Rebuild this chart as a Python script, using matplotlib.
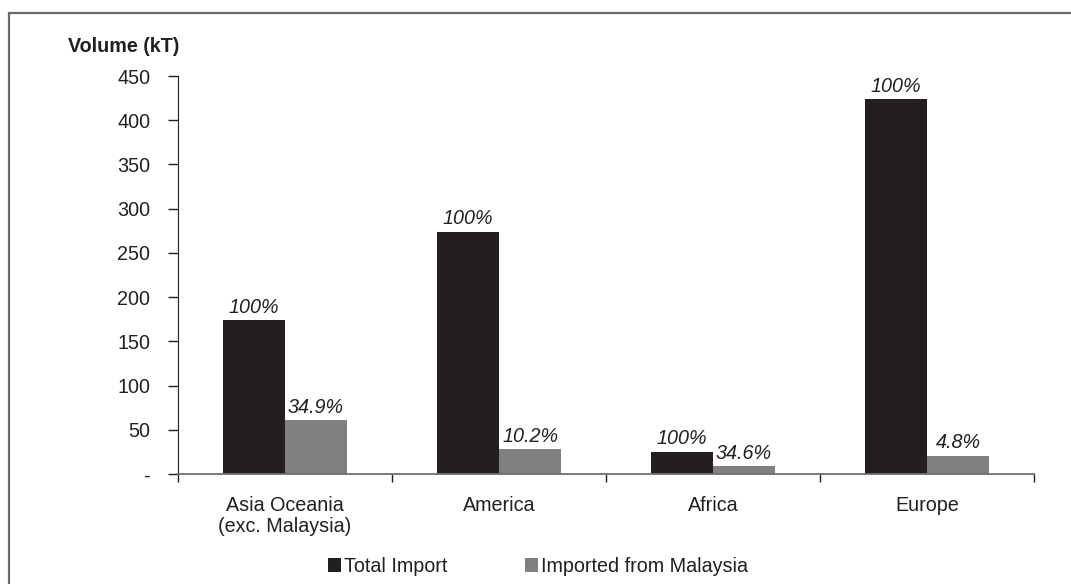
import matplotlib
matplotlib.use("Agg")
import matplotlib.pyplot as plt
from matplotlib.patches import Rectangle, Patch
import numpy as np

plt.rcParams["font.family"] = ["Liberation Sans", "DejaVu Sans"]

regions = ["Asia Oceania\n(exc. Malaysia)", "America", "Africa", "Europe"]
total_import = [174, 274, 25, 424]
from_malaysia = [60.7, 27.9, 8.7, 20.4]
total_labels = ["100%", "100%", "100%", "100%"]
malaysia_labels = ["34.9%", "10.2%", "34.6%", "4.8%"]
y_ticks = [0, 50, 100, 150, 200, 250, 300, 350, 400, 450]
y_tick_labels = ["-", "50", "100", "150", "200", "250", "300", "350", "400", "450"]

c_total = "#231f20"
c_malay = "#808083"
txt = "#231f20"
fs = 14.2

fig = plt.figure(figsize=(10.71, 5.84), dpi=100)
ax = fig.add_axes([178 / 1071, 1 - 474 / 584, (1034 - 178) / 1071, (474 - 76) / 584])

x = np.arange(len(regions))
w = 0.29
b1 = ax.bar(x - w / 2, total_import, w, color=c_total, zorder=2)
b2 = ax.bar(x + w / 2, from_malaysia, w, color=c_malay, zorder=2)

for rect, lab in zip(b1, total_labels):
    ax.annotate(lab, (rect.get_x() + rect.get_width() / 2, rect.get_height()),
                xytext=(0, 2.5), textcoords="offset points", ha="center", va="bottom",
                fontsize=fs, style="italic", color=txt)
for rect, lab in zip(b2, malaysia_labels):
    ax.annotate(lab, (rect.get_x() + rect.get_width() / 2, rect.get_height()),
                xytext=(0, 2.5), textcoords="offset points", ha="center", va="bottom",
                fontsize=fs, style="italic", color=txt)

ax.set_xlim(-0.5, len(regions) - 0.5)
ax.set_ylim(0, 450)
ax.set_yticks(y_ticks)
ax.set_yticklabels(y_tick_labels, fontsize=fs, color=txt)
ax.tick_params(axis="y", direction="out", length=7, width=1, pad=13, color=txt)

# category boundaries carry the tick marks, names sit centred under each group
ax.set_xticks(np.arange(-0.5, len(regions), 1.0))
ax.set_xticklabels([])
ax.set_xticks(x, minor=True)
ax.set_xticklabels(regions, minor=True, fontsize=fs, color=txt, linespacing=1.1)
ax.tick_params(axis="x", which="major", direction="out", length=6, width=1, color=txt)
ax.tick_params(axis="x", which="minor", length=0, pad=16)

for s in ["top", "right"]:
    ax.spines[s].set_visible(False)
ax.spines["left"].set_color(txt)
ax.spines["bottom"].set_color("#6e6e6e")
ax.spines["bottom"].set_linewidth(1.3)

fig.text(68 / 1071, 1 - 47 / 584, "Volume (kT)", fontsize=fs, fontweight="bold",
         color=txt, ha="left", va="center")

handles = [Patch(facecolor=c_total, label="Total Import"),
           Patch(facecolor=c_malay, label="Imported from Malaysia")]
fig.legend(handles=handles, loc="center", bbox_to_anchor=(538 / 1071, 1 - 566 / 584),
           ncol=2, frameon=False, fontsize=fs, handlelength=0.7, handleheight=0.7,
           handletextpad=0.15, columnspacing=3.9, labelcolor=txt)

# frame open on the right and bottom edges
fig.patches.append(Rectangle((9 / 1071, -0.1), 1.2, 1 - 13 / 584 + 0.1,
                             transform=fig.transFigure, fill=False,
                             edgecolor="#6a6a6a", linewidth=1.6))

fig.savefig("out.png", dpi=100, facecolor="white")
